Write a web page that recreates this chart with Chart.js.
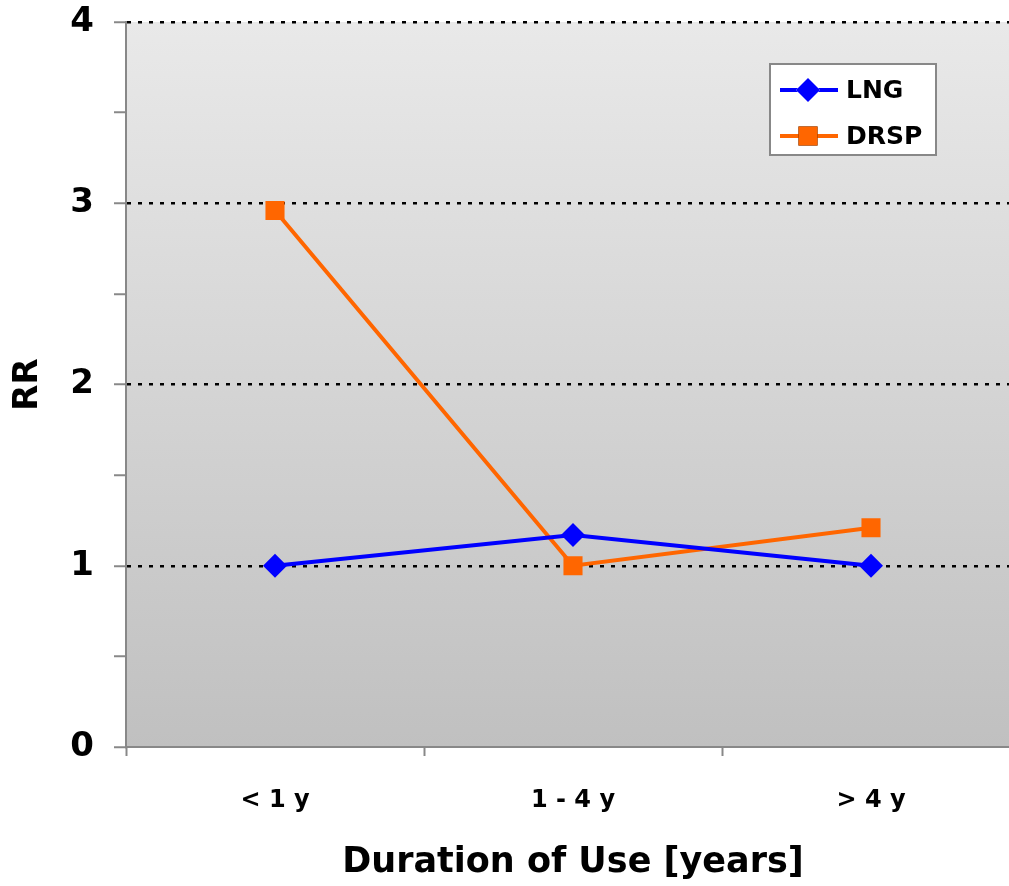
<!DOCTYPE html>
<html>
<head>
<meta charset="utf-8">
<script src="https://cdn.jsdelivr.net/npm/chart.js@4/dist/chart.umd.min.js"></script>
<style>
  html, body { margin: 0; padding: 0; background: #fff; overflow: hidden; }
  canvas { display: block; }
</style>
</head>
<body>
<canvas id="myChart" width="1022" height="886"></canvas>
<script>
const categories = ['< 1 y', '1 - 4 y', '> 4 y'];
const lngValues = [1.0, 1.17, 1.0];
const drspValues = [2.96, 1.0, 1.21];
const yTicks = [0, 1, 2, 3, 4];

const FONT = "'DejaVu Sans', Verdana, sans-serif";

// gray gradient behind the plot
const plotBackground = {
  id: 'plotBackground',
  beforeDraw(chart) {
    const a = chart.chartArea, ctx = chart.ctx;
    const g = ctx.createLinearGradient(0, a.top, 0, a.bottom);
    g.addColorStop(0, '#e9e9e9');
    g.addColorStop(1, '#c0c0c0');
    ctx.save();
    ctx.fillStyle = g;
    ctx.fillRect(a.left, a.top, a.right - a.left, a.bottom - a.top);
    ctx.restore();
  }
};

// boxed legend inside the plot, top right
const boxLegend = {
  id: 'boxLegend',
  afterDraw(chart) {
    const ctx = chart.ctx;
    const x = 770, y = 64, w = 166, h = 91;
    ctx.save();
    ctx.fillStyle = '#fff';
    ctx.fillRect(x, y, w, h);
    ctx.strokeStyle = '#888';
    ctx.lineWidth = 2;
    ctx.strokeRect(x, y, w, h);
    chart.data.datasets.forEach(function(ds, i) {
      const cy = y + 26 + i * 46;
      ctx.strokeStyle = ds.borderColor;
      ctx.lineWidth = 4;
      ctx.beginPath();
      ctx.moveTo(780, cy);
      ctx.lineTo(838, cy);
      ctx.stroke();
      Chart.helpers.drawPoint(ctx, {
        pointStyle: ds.pointStyle, radius: ds.pointRadius, borderWidth: 0, rotation: 0
      }, 808, cy);
      ctx.fillStyle = ds.backgroundColor;
      ctx.fill();
      ctx.fillStyle = '#000';
      ctx.font = 'bold 25px ' + FONT;
      ctx.textBaseline = 'middle';
      ctx.textAlign = 'left';
      ctx.fillText(ds.label, 846, cy + 1);
    });
    ctx.restore();
  }
};

const ctx = document.getElementById('myChart');
new Chart(ctx, {
  type: 'line',
  data: {
    labels: categories,
    datasets: [
      {
        label: 'LNG',
        data: lngValues,
        borderColor: '#0000ff',
        backgroundColor: '#0000ff',
        borderWidth: 4,
        pointStyle: 'rectRot',
        pointRadius: 12,
        pointBorderWidth: 0,
        tension: 0
      },
      {
        label: 'DRSP',
        data: drspValues,
        borderColor: '#ff6600',
        backgroundColor: '#ff6600',
        borderWidth: 4,
        pointStyle: 'rect',
        pointRadius: 13.5,
        pointBorderWidth: 0,
        tension: 0
      }
    ]
  },
  options: {
    responsive: false,
    animation: false,
    // plot runs past the right edge of the picture
    layout: { autoPadding: false, padding: { top: 22, right: 2, left: 0, bottom: 0 } },
    plugins: {
      legend: { display: false },
      tooltip: { enabled: false }
    },
    scales: {
      x: {
        offset: true,
        grid: {
          offset: true,
          drawOnChartArea: false,
          tickLength: 9,
          tickColor: '#888',
          tickWidth: 2
        },
        border: { color: '#888', width: 2 },
        ticks: {
          color: '#000',
          padding: 30,
          font: { family: FONT, size: 24, weight: 'bold' }
        },
        title: {
          display: true,
          text: 'Duration of Use [years]',
          color: '#000',
          padding: { top: 0, bottom: 2 },
          font: { family: FONT, size: 35, weight: 'bold' }
        },
        afterFit(scale) {
          scale.height = 139;
          scale.paddingLeft = 0;
          scale.paddingRight = 0;
        }
      },
      y: {
        min: 0,
        max: 4,
        afterBuildTicks(scale) {
          const t = [];
          yTicks.forEach(function(v, i) {
            t.push({ value: v });
            if (i < yTicks.length - 1) t.push({ value: v + 0.5 });
          });
          scale.ticks = t;
        },
        grid: {
          color(c) {
            const v = c.tick ? c.tick.value : 0;
            return (v > 0 && Number.isInteger(v)) ? '#000' : 'rgba(0,0,0,0)';
          },
          lineWidth: 2.5,
          tickLength: 12,
          tickColor: '#888',
          tickWidth: 2
        },
        border: { color: '#888', width: 2, dash: [4, 7] },
        ticks: {
          color: '#000',
          padding: 20,
          autoSkip: false,
          font: { family: FONT, size: 34, weight: 'bold' },
          callback(v) { return Number.isInteger(v) ? v : ''; }
        },
        title: {
          display: true,
          text: 'RR',
          color: '#000',
          padding: { top: 8, bottom: 0 },
          font: { family: FONT, size: 34, weight: 'bold' }
        },
        afterFit(scale) {
          scale.width = 126;
          scale.paddingTop = 0;
          scale.paddingBottom = 0;
        }
      }
    }
  },
  plugins: [plotBackground, boxLegend]
});
</script>
</body>
</html>
